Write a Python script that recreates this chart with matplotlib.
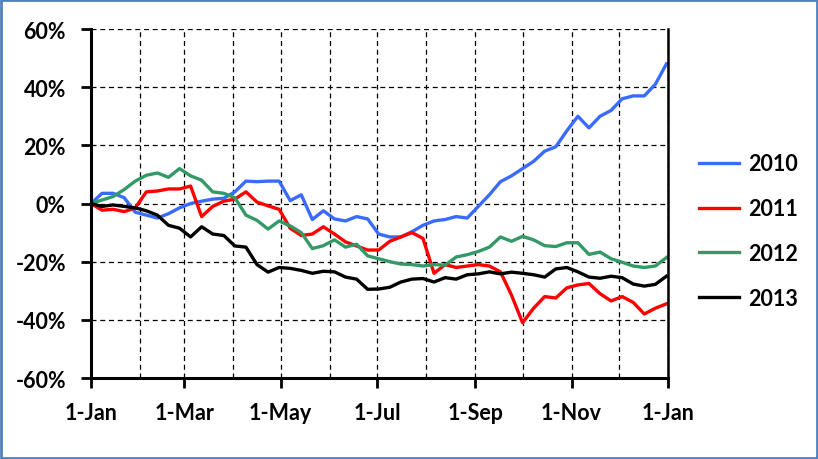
import matplotlib
matplotlib.use("Agg")
import matplotlib.pyplot as plt
import matplotlib.dates as mdates
from matplotlib.patches import Rectangle
from matplotlib.ticker import FuncFormatter, MultipleLocator
import pandas as pd

plt.rcParams['font.family'] = ['Lato', 'DejaVu Sans']

# weekly observations, cumulative % change from 1-Jan
labels = ["2010", "2011", "2012", "2013"]
colors = ["#3A6BFF", "#FF0000", "#339966", "#000000"]

y2010 = [0, 3.5, 3.5, 2, -3, -4, -5, -3.5, -1.5, 0, 0.8, 1.5, 1.8, 4, 7.7, 7.5, 7.7, 7.7,
         1, 3, -5.5, -2.5, -5.3, -6, -4.5, -5.3, -10.5, -11.5, -11.5, -9.7, -7.5, -6, -5.5,
         -4.5, -5, -1, 3, 7.5, 9.5, 12, 14.5, 18, 19.5, 25, 30, 26, 30, 32, 36, 37, 37, 41, 48]
y2011 = [0, -2.3, -2, -2.8, -1.5, 4, 4.3, 5, 5, 6, -4.5, -1, 0.8, 1.5, 4, 0.5, -0.8, -2,
         -8.5, -11, -10.5, -8, -10.5, -13.2, -14.6, -16, -16, -13, -11.5, -10, -12, -24, -21,
         -22, -21.5, -21, -21.5, -23.5, -31.5, -41, -36, -32, -32.5, -29, -28, -27.5, -31,
         -33.5, -32, -34, -38, -36, -34.5]
y2012 = [0, 1.2, 2.4, 4.8, 7.7, 9.7, 10.5, 9, 12, 9.5, 8, 4, 3.5, 2, -4, -5.8, -8.8, -6,
         -7.7, -10, -15.5, -14.5, -12.5, -15, -14, -18, -19, -20, -20.8, -21, -21.5, -21,
         -21.2, -18.4, -17.6, -16.5, -15, -11.5, -13, -11.3, -12.5, -14.5, -14.8, -13.5,
         -13.5, -17.5, -16.7, -19, -20.2, -21.5, -22, -21.5, -18.6]
y2013 = [0, -1, -0.5, -1, -1.5, -2.5, -4, -7.5, -8.5, -11.5, -8, -10.5, -11, -14.6, -15,
         -21, -23.6, -22, -22.3, -23, -24, -23.3, -23.5, -25.3, -26, -29.5, -29.4, -28.8,
         -27, -26, -25.8, -27, -25.5, -26, -24.5, -24.2, -23.5, -24.2, -23.6, -24, -24.5,
         -25.3, -22.5, -22, -23.5, -25.3, -25.7, -25, -25.5, -27.7, -28.4, -27.8, -25]
series = [y2010, y2011, y2012, y2013]

dates = pd.date_range("2010-01-01", periods=len(y2010), freq="7D")

fig = plt.figure(figsize=(8.18, 4.6), dpi=100)
ax = fig.add_axes([91/818, 1-379/460, (668-91)/818, (379-30)/460])

for lab, col, ys in zip(labels, colors, series):
    ax.plot(dates, ys, color=col, lw=2.4, label=lab, solid_joinstyle='round')

ax.set_xlim(pd.Timestamp("2010-01-01"), pd.Timestamp("2011-01-01"))
ax.set_ylim(-60, 60)

ax.xaxis.set_major_locator(mdates.MonthLocator(bymonth=[1, 3, 5, 7, 9, 11]))
ax.xaxis.set_minor_locator(mdates.MonthLocator())
ax.xaxis.set_major_formatter(FuncFormatter(lambda v, p: f"{mdates.num2date(v).day}-{mdates.num2date(v):%b}"))
ax.yaxis.set_major_locator(MultipleLocator(20))
ax.yaxis.set_major_formatter(FuncFormatter(lambda v, p: f"{v:.0f}%"))

ax.tick_params(axis='both', which='major', direction='out', length=7, width=2,
               labelsize=15.5)
ax.tick_params(axis='y', which='major', pad=11)
ax.tick_params(axis='x', which='major', pad=10)
ax.tick_params(axis='x', which='minor', length=0)
for t in ax.get_xticklabels() + ax.get_yticklabels():
    t.set_fontweight('bold')

dash = (0, (4, 3))
ax.grid(True, axis='x', which='both', color='black', lw=0.9, linestyle=dash)
ax.grid(True, axis='y', which='major', color='black', lw=0.9, linestyle=dash)
ax.set_axisbelow(True)

ax.spines['top'].set_visible(False)
ax.spines['left'].set_linewidth(2.2)
ax.spines['bottom'].set_linewidth(2.2)
ax.spines['right'].set_linewidth(1.8)

leg = fig.legend(loc='center left', bbox_to_anchor=(688/818, 1-232/460), frameon=False,
                 prop={'size': 15.5, 'weight': 'bold'}, handlelength=1.85, handletextpad=0.45,
                 labelspacing=1.1, borderpad=0)

fig.patches.append(Rectangle((0.0015, 0.0025), 0.997, 0.995, transform=fig.transFigure,
                             fill=False, edgecolor='#4F81BD', lw=2))

fig.savefig("out.png", dpi=100)
